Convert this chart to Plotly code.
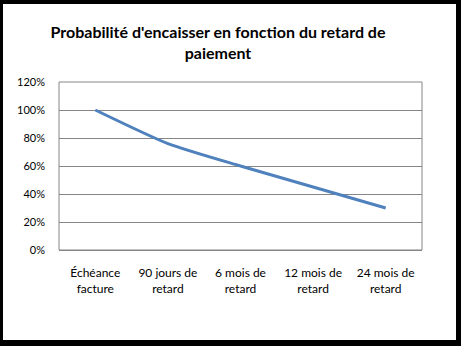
import plotly.graph_objects as go

categories = ["Échéance<br>facture", "90 jours de<br>retard", "6 mois de<br>retard",
              "12 mois de<br>retard", "24 mois de<br>retard"]
values = [1.00, 0.76, 0.60, 0.45, 0.30]
y_ticks = [0, 0.2, 0.4, 0.6, 0.8, 1.0, 1.2]
y_tick_labels = ["0%", "20%", "40%", "60%", "80%", "100%", "120%"]
title_text = "Probabilité d'encaisser en fonction du retard de<br>paiement"

W, H = 461, 346
L, R, T, B = 59, 39, 82, 96
pw, ph = W - L - R, H - T - B

def px(x):
    return (x - L) / pw

def py(y):
    return (H - B - y) / ph

fig = go.Figure()
fig.add_trace(go.Scatter(
    x=categories, y=values, mode="lines",
    line=dict(color="#4F81BD", width=3, shape="spline", smoothing=0.6),
    hoverinfo="skip", showlegend=False,
))

black = "#000000"
shapes = [
    dict(type="rect", xref="paper", yref="paper", x0=px(0), x1=px(W), y0=py(0), y1=py(4),
         fillcolor=black, line=dict(width=0), layer="above"),
    dict(type="rect", xref="paper", yref="paper", x0=px(0), x1=px(W), y0=py(340), y1=py(H),
         fillcolor=black, line=dict(width=0), layer="above"),
    dict(type="rect", xref="paper", yref="paper", x0=px(0), x1=px(3), y0=py(0), y1=py(H),
         fillcolor=black, line=dict(width=0), layer="above"),
    dict(type="rect", xref="paper", yref="paper", x0=px(456), x1=px(W), y0=py(0), y1=py(H),
         fillcolor=black, line=dict(width=0), layer="above"),
    dict(type="rect", xref="paper", yref="paper", x0=0, x1=1, y0=0, y1=1,
         line=dict(color="#868686", width=1), layer="below"),
]

fig.update_layout(
    width=W, height=H,
    margin=dict(l=L, r=R, t=T, b=B),
    paper_bgcolor="white", plot_bgcolor="white",
    font=dict(family="Lato, Open Sans, sans-serif", color="#000000", size=12),
    title=dict(text=title_text, x=218 / W, xanchor="center", xref="container",
               y=1 - 38 / H, yanchor="top", yref="container",
               font=dict(family="Lato, Open Sans, sans-serif", size=16, color="#000000",
                         weight="bold")),
    shapes=shapes,
    xaxis=dict(
        type="category", range=[-0.5, 4.5], showgrid=False, zeroline=False,
        showline=True, linecolor="#868686", linewidth=1, ticks="",
        tickfont=dict(size=12, color="#000000"), ticklabelstandoff=12,
    ),
    yaxis=dict(
        range=[0, 1.2], tickvals=y_ticks, ticktext=y_tick_labels,
        showgrid=True, gridcolor="#868686", gridwidth=1, zeroline=False,
        showline=False, ticks="", tickfont=dict(size=11, color="#000000"),
        ticklabelstandoff=13,
    ),
)

fig.write_html("out.html")
